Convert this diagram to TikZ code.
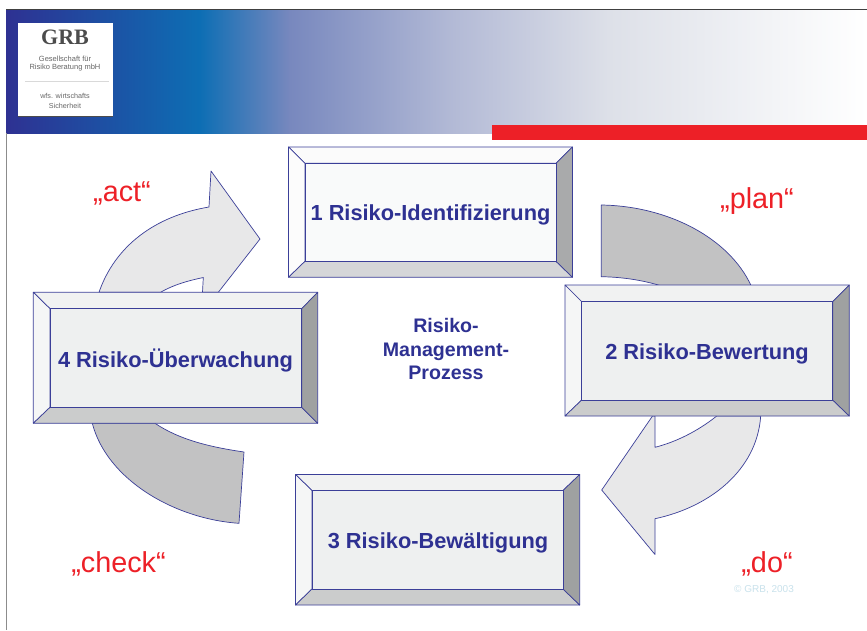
\documentclass[tikz,border=0pt]{standalone}
\usepackage{fontspec}
\setmainfont{Liberation Sans}
\newfontfamily\logofont{Liberation Serif}
\definecolor{edgeblue}{HTML}{3B3F98}
\definecolor{textblue}{HTML}{2E3192}
\definecolor{redmark}{HTML}{ED2027}
\definecolor{ltarrow}{HTML}{E8E8E9}
\definecolor{dkarrow}{HTML}{C2C2C3}
\definecolor{copytext}{HTML}{C9E2EC}
\definecolor{gA}{HTML}{0D6EB4}
\definecolor{gB}{HTML}{7888BE}
\definecolor{gC}{HTML}{B3BAD6}
\definecolor{gD}{HTML}{DDE0E8}
\pgfdeclarehorizontalshading{bannershade}{100bp}{
 color(0bp)=(textblue); color(25bp)=(textblue); color(36.25bp)=(gA); color(41.5bp)=(gB); color(51bp)=(gC);
 color(60bp)=(gD); color(75bp)=(white); color(100bp)=(white)}
\tikzset{
 arrowlight/.style={draw=edgeblue,line width=.7pt,fill=ltarrow,line join=round},
 arrowdark/.style={draw=edgeblue,line width=.7pt,fill=dkarrow,line join=round},
 facet/.style={draw=edgeblue,line width=.7pt,line join=round},
 boxlabel/.style={text=textblue,font=\bfseries\fontsize{21.8}{24}\selectfont,inner sep=0pt},
 midlabel/.style={text=textblue,font=\bfseries\fontsize{19.6}{23.5}\selectfont,align=center,inner sep=0pt},
 redlabel/.style={text=redmark,font=\fontsize{28.8}{32}\selectfont,inner sep=0pt}
}
\newcommand{\bevelbox}[9]{%
 \path[fill=#9T,facet] (#1,#2)--(#3,#2)--(#7,#6)--(#5,#6)--cycle;
 \path[fill=#9L,facet] (#1,#2)--(#5,#6)--(#5,#8)--(#1,#4)--cycle;
 \path[fill=#9B,facet] (#1,#4)--(#5,#8)--(#7,#8)--(#3,#4)--cycle;
 \path[fill=#9R,facet] (#3,#2)--(#3,#4)--(#7,#8)--(#7,#6)--cycle;
 \path[fill=#9F,facet] (#5,#6) rectangle (#7,#8);
}
\definecolor{aT}{HTML}{FBFBFB}\definecolor{aL}{HTML}{FCFCFC}\definecolor{aB}{HTML}{D5D6D8}\definecolor{aR}{HTML}{A9AAAB}\definecolor{aF}{HTML}{F9FAFA}
\definecolor{bT}{HTML}{F1F2F2}\definecolor{bL}{HTML}{F5F6F6}\definecolor{bB}{HTML}{CBCCCC}\definecolor{bR}{HTML}{9FA1A1}\definecolor{bF}{HTML}{EEF0F0}
\begin{document}
\begin{tikzpicture}[x=1pt,y=-1pt]
\useasboundingbox (0,0) rectangle (867,630);
\fill[white] (0,0) rectangle (867,630);
% banner
\shade[shading=bannershade] (6,10) rectangle (867,133);
\draw[black!75,line width=.8pt] (6,9.6) -- (867,9.6);
\draw[black!45,line width=1.2pt] (6.5,133) -- (6.5,630);
\fill[redmark] (492,125) rectangle (867,140);
% logo
\fill[black!70] (18,24) rectangle (113,117);
\fill[white] (18,23) rectangle (113,115.5);
\node[name=crb,inner sep=0pt,text=black!70,font=\logofont\bfseries\fontsize{22}{24}\selectfont] at (65,37.5) {GRB};
\node[name=logoa,inner sep=0pt,text=black!60,font=\fontsize{7.5}{8.5}\selectfont,align=center] at (65,63.5) {Gesellschaft für\\Risiko Beratung mbH};
\draw[black!15,line width=.6pt] (25,81) -- (109,81);
\node[name=logob,inner sep=0pt,text=black!60,font=\fontsize{7.2}{10}\selectfont,align=center] at (65,101) {wfs. wirtschafts\\Sicherheit};
% arrows
\path[arrowlight] (260,239) -- (211,171) -- (209,207)
  .. controls (155,216) and (115,246) .. (99,292.3)
  -- (160.5,292.3) .. controls (174,284.5) and (189,280.5) .. (203.3,277.5)
  -- (202.5,292.3) -- (218.3,292.3) -- cycle;
\path[arrowdark] (601.3,205) .. controls (668,206) and (729,238) .. (751,285.5)
  -- (660,285.5) .. controls (640,279.5) and (620,277) .. (601.3,276.7) -- cycle;
\path[arrowlight] (601.7,490) -- (655,554.5) -- (655,518.7)
  .. controls (710,507) and (757,470) .. (760.7,416)
  -- (716.7,416) .. controls (698,431) and (676,442) .. (655,447.3)
  -- (655,416) -- (652.5,416) -- cycle;
\path[arrowdark] (92.3,423.3) .. controls (107,480) and (175,519) .. (239,523.3)
  -- (244,452) .. controls (210,447) and (180,440) .. (155,423.3) -- cycle;
% boxes
\bevelbox{288.5}{147}{572.5}{277.3}{305}{163.3}{556}{261.3}{a}
\bevelbox{33.3}{292.3}{317.7}{423.3}{50}{308.7}{301.7}{407.3}{b}
\bevelbox{565}{285}{849.3}{416}{581.7}{301.7}{832.7}{400}{b}
\bevelbox{295.5}{474.5}{579.7}{605}{312}{490.5}{563}{589}{b}
% labels
\node[boxlabel,name=n1] at (430.5,214.5) {1 Risiko-Identifizierung};
\node[boxlabel,name=n2] at (707,353.5) {2 Risiko-Bewertung};
\node[boxlabel,name=n3] at (438,543) {3 Risiko-Bewältigung};
\node[boxlabel,name=n4] at (175.5,360.5) {4 Risiko-Überwachung};
\node[midlabel,name=mid] at (446,349) {Risiko-\\Management-\\Prozess};
\node[redlabel,name=act] at (122,193) {„act“};
\node[redlabel,name=plan] at (757,201) {„plan“};
\node[redlabel,name=do] at (767,564) {„do“};
\node[redlabel,name=check] at (118.5,564) {„check“};
\node[name=copyr,inner sep=0pt,text=copytext,font=\fontsize{10}{11}\selectfont] at (764,589.5) {© GRB, 2003};
\end{tikzpicture}
\end{document}
